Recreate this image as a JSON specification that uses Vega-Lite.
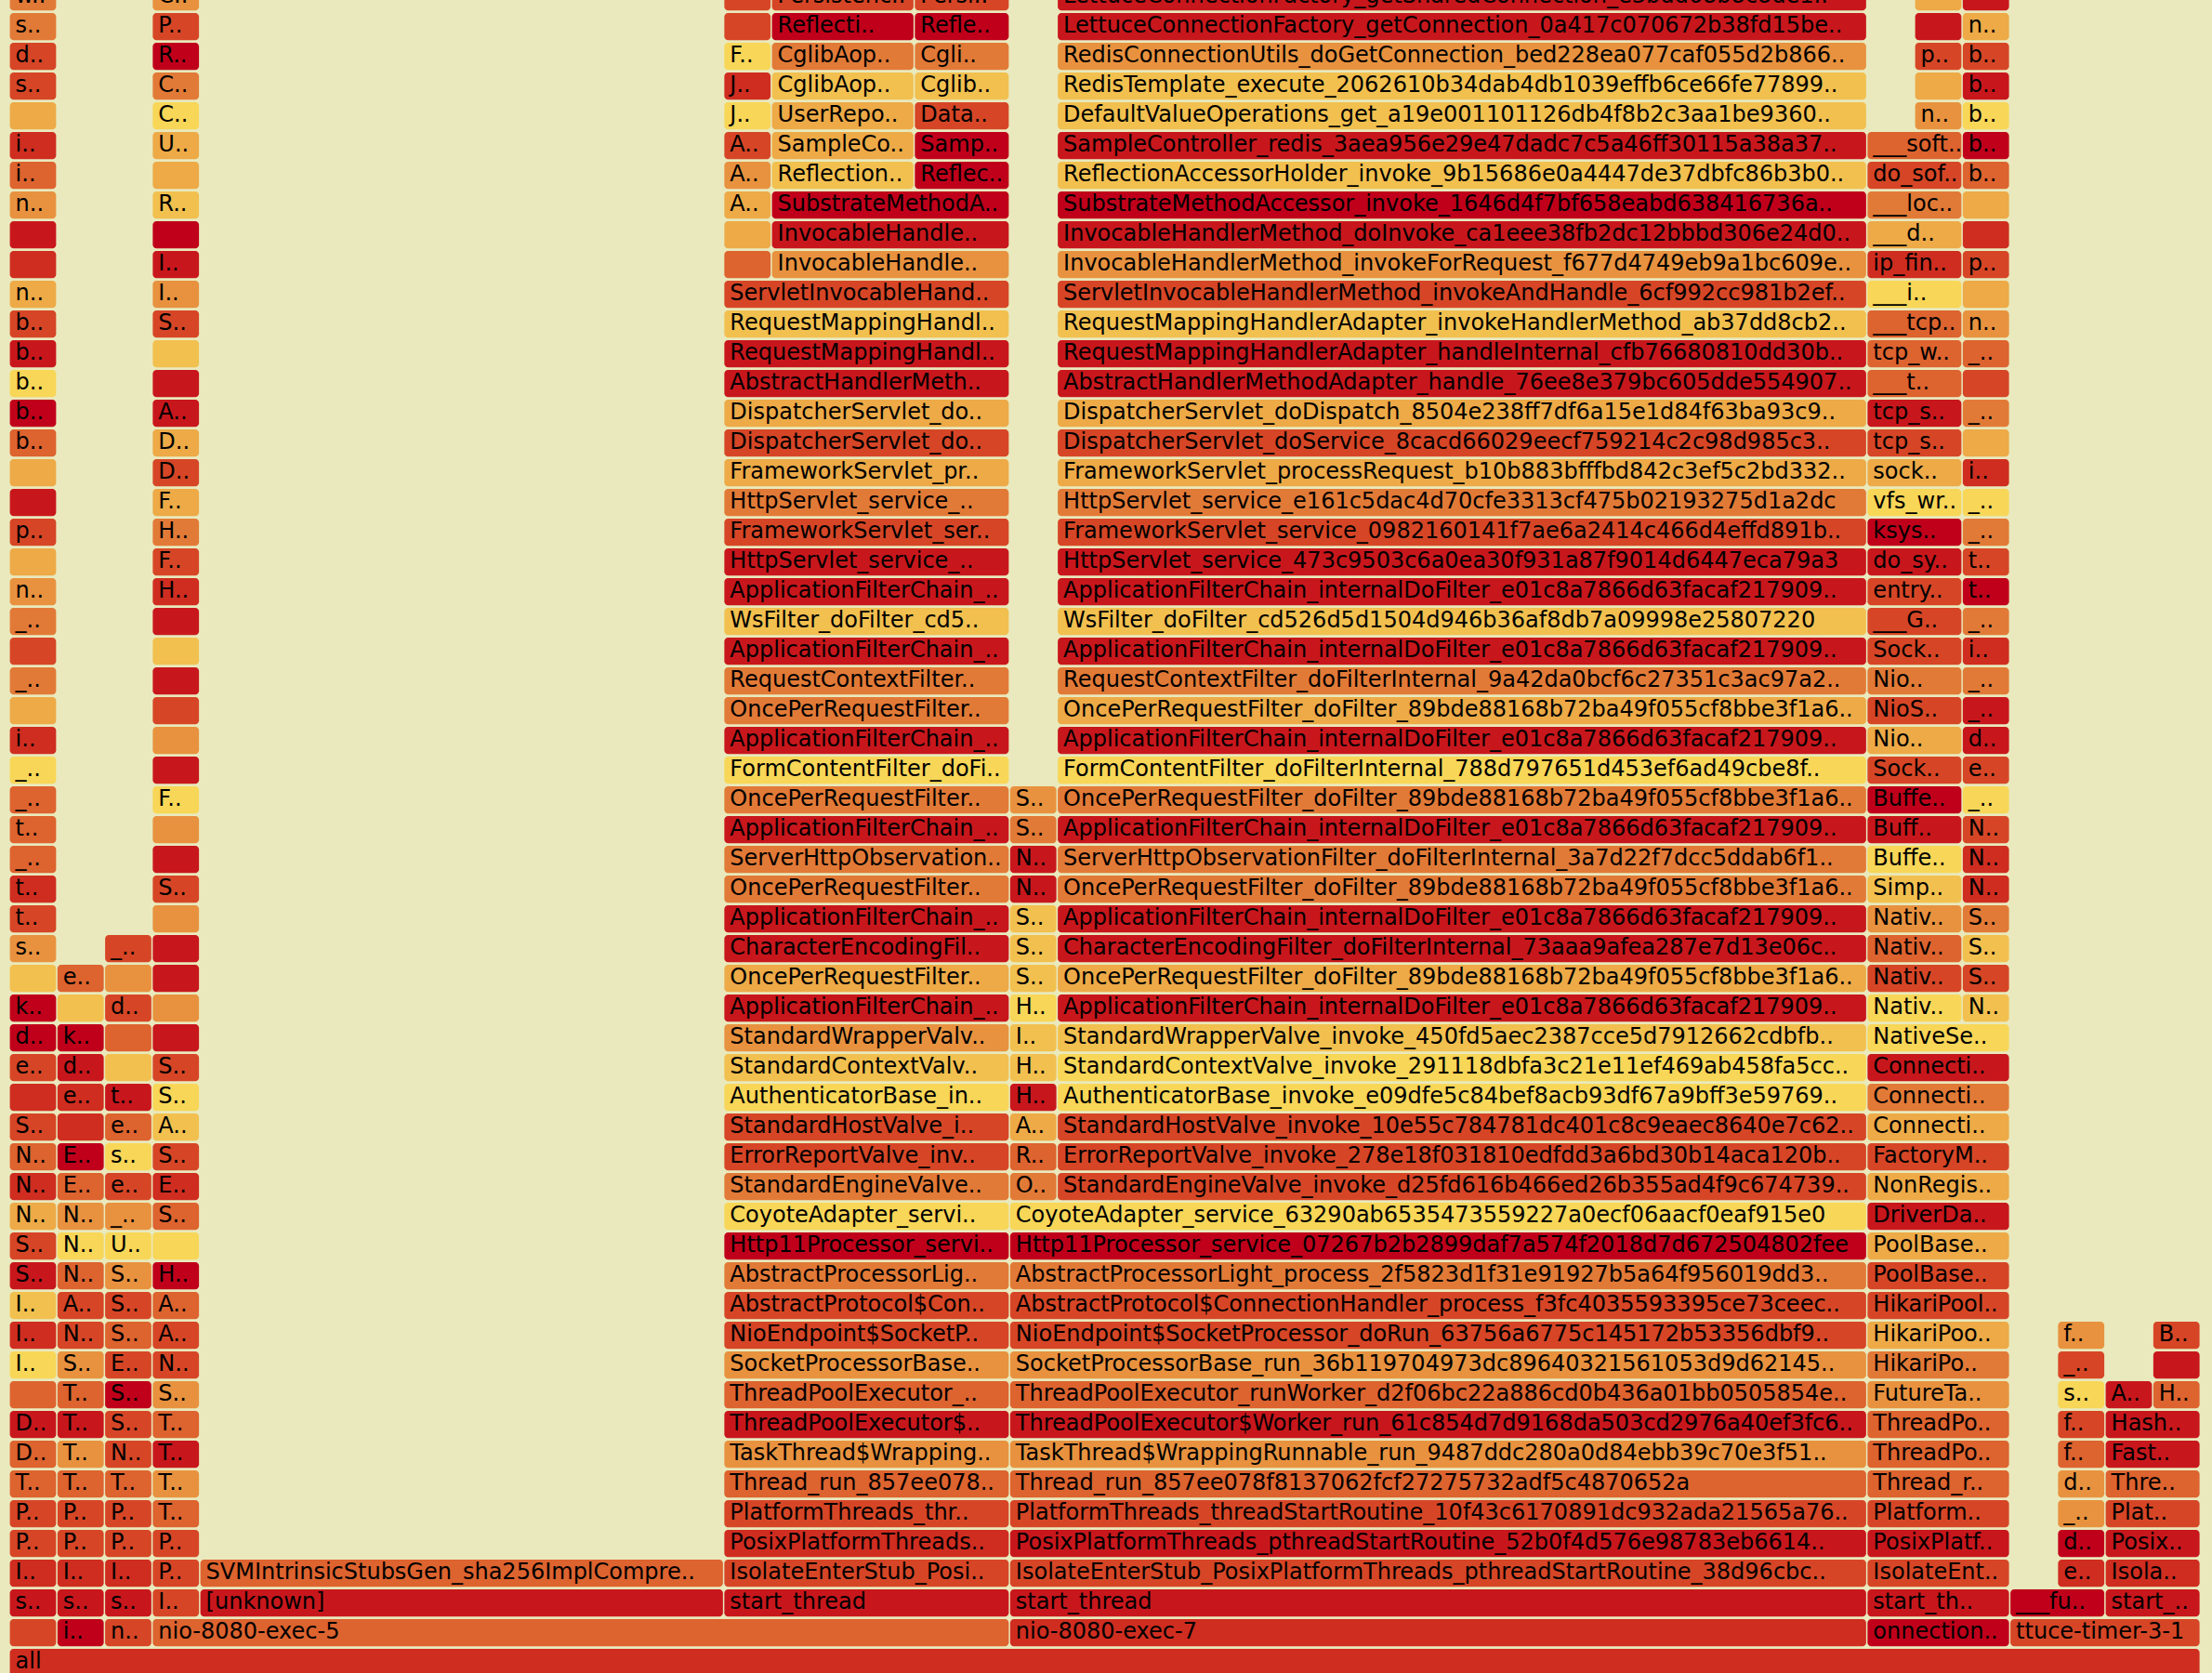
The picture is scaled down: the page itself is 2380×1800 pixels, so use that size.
{
"$schema": "https://vega.github.io/schema/vega-lite/v6.json",
"width": 2380, "height": 1800, "padding": 0, "autosize": {"type": "none"},
"background": "#e9e9bd",
"config": {"view": {"stroke": null}},
"data": {"values": [
{"d":0,"x0":0,"x1":46,"n":"all","h":2},
{"d":1,"x0":0,"x1":1,"n":"","h":3},{"d":1,"x0":1,"x1":2,"n":"i..","h":0},{"d":1,"x0":2,"x1":3,"n":"n..","h":3},{"d":1,"x0":3,"x1":21,"n":"nio-8080-exec-5","h":4},{"d":1,"x0":21,"x1":39,"n":"nio-8080-exec-7","h":2},{"d":1,"x0":39,"x1":42,"n":"onnection..","h":0},{"d":1,"x0":42,"x1":46,"n":"ttuce-timer-3-1","h":3},
{"d":2,"x0":0,"x1":1,"n":"s..","h":1},{"d":2,"x0":1,"x1":2,"n":"s..","h":1},{"d":2,"x0":2,"x1":3,"n":"s..","h":1},{"d":2,"x0":3,"x1":4,"n":"I..","h":3},{"d":2,"x0":4,"x1":15,"n":"[unknown]","h":1},{"d":2,"x0":15,"x1":21,"n":"start_thread","h":1},{"d":2,"x0":21,"x1":39,"n":"start_thread","h":1},{"d":2,"x0":39,"x1":42,"n":"start_th..","h":1},{"d":2,"x0":42,"x1":44,"n":"___fu..","h":0},{"d":2,"x0":44,"x1":46,"n":"start_..","h":1},
{"d":3,"x0":0,"x1":1,"n":"I..","h":2},{"d":3,"x0":1,"x1":2,"n":"I..","h":2},{"d":3,"x0":2,"x1":3,"n":"I..","h":2},{"d":3,"x0":3,"x1":4,"n":"P..","h":3},{"d":3,"x0":4,"x1":15,"n":"SVMIntrinsicStubsGen_sha256ImplCompre..","h":4},{"d":3,"x0":15,"x1":21,"n":"IsolateEnterStub_Posi..","h":3},{"d":3,"x0":21,"x1":39,"n":"IsolateEnterStub_PosixPlatformThreads_pthreadStartRoutine_38d96cbc..","h":3},{"d":3,"x0":39,"x1":42,"n":"IsolateEnt..","h":3},{"d":3,"x0":43,"x1":44,"n":"e..","h":2},{"d":3,"x0":44,"x1":46,"n":"Isola..","h":2},
{"d":4,"x0":0,"x1":1,"n":"P..","h":3},{"d":4,"x0":1,"x1":2,"n":"P..","h":3},{"d":4,"x0":2,"x1":3,"n":"P..","h":3},{"d":4,"x0":3,"x1":4,"n":"P..","h":3},{"d":4,"x0":15,"x1":21,"n":"PosixPlatformThreads..","h":2},{"d":4,"x0":21,"x1":39,"n":"PosixPlatformThreads_pthreadStartRoutine_52b0f4d576e98783eb6614..","h":1},{"d":4,"x0":39,"x1":42,"n":"PosixPlatf..","h":1},{"d":4,"x0":43,"x1":44,"n":"d..","h":0},{"d":4,"x0":44,"x1":46,"n":"Posix..","h":1},
{"d":5,"x0":0,"x1":1,"n":"P..","h":3},{"d":5,"x0":1,"x1":2,"n":"P..","h":3},{"d":5,"x0":2,"x1":3,"n":"P..","h":3},{"d":5,"x0":3,"x1":4,"n":"T..","h":4},{"d":5,"x0":15,"x1":21,"n":"PlatformThreads_thr..","h":3},{"d":5,"x0":21,"x1":39,"n":"PlatformThreads_threadStartRoutine_10f43c6170891dc932ada21565a76..","h":3},{"d":5,"x0":39,"x1":42,"n":"Platform..","h":3},{"d":5,"x0":43,"x1":44,"n":"_..","h":6},{"d":5,"x0":44,"x1":46,"n":"Plat..","h":3},
{"d":6,"x0":0,"x1":1,"n":"T..","h":4},{"d":6,"x0":1,"x1":2,"n":"T..","h":4},{"d":6,"x0":2,"x1":3,"n":"T..","h":4},{"d":6,"x0":3,"x1":4,"n":"T..","h":6},{"d":6,"x0":15,"x1":21,"n":"Thread_run_857ee078..","h":4},{"d":6,"x0":21,"x1":39,"n":"Thread_run_857ee078f8137062fcf27275732adf5c4870652a","h":4},{"d":6,"x0":39,"x1":42,"n":"Thread_r..","h":4},{"d":6,"x0":43,"x1":44,"n":"d..","h":6},{"d":6,"x0":44,"x1":46,"n":"Thre..","h":4},
{"d":7,"x0":0,"x1":1,"n":"D..","h":4},{"d":7,"x0":1,"x1":2,"n":"T..","h":6},{"d":7,"x0":2,"x1":3,"n":"N..","h":3},{"d":7,"x0":3,"x1":4,"n":"T..","h":1},{"d":7,"x0":15,"x1":21,"n":"TaskThread$Wrapping..","h":6},{"d":7,"x0":21,"x1":39,"n":"TaskThread$WrappingRunnable_run_9487ddc280a0d84ebb39c70e3f51..","h":6},{"d":7,"x0":39,"x1":42,"n":"ThreadPo..","h":4},{"d":7,"x0":43,"x1":44,"n":"f..","h":4},{"d":7,"x0":44,"x1":46,"n":"Fast..","h":1},
{"d":8,"x0":0,"x1":1,"n":"D..","h":1},{"d":8,"x0":1,"x1":2,"n":"T..","h":1},{"d":8,"x0":2,"x1":3,"n":"S..","h":3},{"d":8,"x0":3,"x1":4,"n":"T..","h":4},{"d":8,"x0":15,"x1":21,"n":"ThreadPoolExecutor$..","h":1},{"d":8,"x0":21,"x1":39,"n":"ThreadPoolExecutor$Worker_run_61c854d7d9168da503cd2976a40ef3fc6..","h":1},{"d":8,"x0":39,"x1":42,"n":"ThreadPo..","h":4},{"d":8,"x0":43,"x1":44,"n":"f..","h":3},{"d":8,"x0":44,"x1":46,"n":"Hash..","h":1},
{"d":9,"x0":0,"x1":1,"n":"","h":4},{"d":9,"x0":1,"x1":2,"n":"T..","h":4},{"d":9,"x0":2,"x1":3,"n":"S..","h":0},{"d":9,"x0":3,"x1":4,"n":"S..","h":6},{"d":9,"x0":15,"x1":21,"n":"ThreadPoolExecutor_..","h":4},{"d":9,"x0":21,"x1":39,"n":"ThreadPoolExecutor_runWorker_d2f06bc22a886cd0b436a01bb0505854e..","h":4},{"d":9,"x0":39,"x1":42,"n":"FutureTa..","h":6},{"d":9,"x0":43,"x1":44,"n":"s..","h":9},{"d":9,"x0":44,"x1":45,"n":"A..","h":1},{"d":9,"x0":45,"x1":46,"n":"H..","h":4},
{"d":10,"x0":0,"x1":1,"n":"I..","h":9},{"d":10,"x0":1,"x1":2,"n":"S..","h":6},{"d":10,"x0":2,"x1":3,"n":"E..","h":3},{"d":10,"x0":3,"x1":4,"n":"N..","h":3},{"d":10,"x0":15,"x1":21,"n":"SocketProcessorBase..","h":6},{"d":10,"x0":21,"x1":39,"n":"SocketProcessorBase_run_36b119704973dc89640321561053d9d62145..","h":6},{"d":10,"x0":39,"x1":42,"n":"HikariPo..","h":5},{"d":10,"x0":43,"x1":44,"n":"_..","h":3},{"d":10,"x0":45,"x1":46,"n":"","h":1},
{"d":11,"x0":0,"x1":1,"n":"I..","h":2},{"d":11,"x0":1,"x1":2,"n":"N..","h":3},{"d":11,"x0":2,"x1":3,"n":"S..","h":4},{"d":11,"x0":3,"x1":4,"n":"A..","h":3},{"d":11,"x0":15,"x1":21,"n":"NioEndpoint$SocketP..","h":3},{"d":11,"x0":21,"x1":39,"n":"NioEndpoint$SocketProcessor_doRun_63756a6775c145172b53356dbf9..","h":3},{"d":11,"x0":39,"x1":42,"n":"HikariPoo..","h":7},{"d":11,"x0":43,"x1":44,"n":"f..","h":6},{"d":11,"x0":45,"x1":46,"n":"B..","h":3},
{"d":12,"x0":0,"x1":1,"n":"I..","h":8},{"d":12,"x0":1,"x1":2,"n":"A..","h":3},{"d":12,"x0":2,"x1":3,"n":"S..","h":3},{"d":12,"x0":3,"x1":4,"n":"A..","h":4},{"d":12,"x0":15,"x1":21,"n":"AbstractProtocol$Con..","h":3},{"d":12,"x0":21,"x1":39,"n":"AbstractProtocol$ConnectionHandler_process_f3fc4035593395ce73ceec..","h":3},{"d":12,"x0":39,"x1":42,"n":"HikariPool..","h":3},
{"d":13,"x0":0,"x1":1,"n":"S..","h":1},{"d":13,"x0":1,"x1":2,"n":"N..","h":4},{"d":13,"x0":2,"x1":3,"n":"S..","h":6},{"d":13,"x0":3,"x1":4,"n":"H..","h":0},{"d":13,"x0":15,"x1":21,"n":"AbstractProcessorLig..","h":5},{"d":13,"x0":21,"x1":39,"n":"AbstractProcessorLight_process_2f5823d1f31e91927b5a64f956019dd3..","h":5},{"d":13,"x0":39,"x1":42,"n":"PoolBase..","h":3},
{"d":14,"x0":0,"x1":1,"n":"S..","h":3},{"d":14,"x0":1,"x1":2,"n":"N..","h":9},{"d":14,"x0":2,"x1":3,"n":"U..","h":9},{"d":14,"x0":3,"x1":4,"n":"","h":9},{"d":14,"x0":15,"x1":21,"n":"Http11Processor_servi..","h":0},{"d":14,"x0":21,"x1":39,"n":"Http11Processor_service_07267b2b2899daf7a574f2018d7d672504802fee","h":0},{"d":14,"x0":39,"x1":42,"n":"PoolBase..","h":7},
{"d":15,"x0":0,"x1":1,"n":"N..","h":7},{"d":15,"x0":1,"x1":2,"n":"N..","h":6},{"d":15,"x0":2,"x1":3,"n":"_..","h":6},{"d":15,"x0":3,"x1":4,"n":"S..","h":4},{"d":15,"x0":15,"x1":21,"n":"CoyoteAdapter_servi..","h":9},{"d":15,"x0":21,"x1":39,"n":"CoyoteAdapter_service_63290ab6535473559227a0ecf06aacf0eaf915e0","h":9},{"d":15,"x0":39,"x1":42,"n":"DriverDa..","h":1},
{"d":16,"x0":0,"x1":1,"n":"N..","h":2},{"d":16,"x0":1,"x1":2,"n":"E..","h":4},{"d":16,"x0":2,"x1":3,"n":"e..","h":3},{"d":16,"x0":3,"x1":4,"n":"E..","h":2},{"d":16,"x0":15,"x1":21,"n":"StandardEngineValve..","h":5},{"d":16,"x0":21,"x1":22,"n":"O..","h":5},{"d":16,"x0":22,"x1":39,"n":"StandardEngineValve_invoke_d25fd616b466ed26b355ad4f9c674739..","h":3},{"d":16,"x0":39,"x1":42,"n":"NonRegis..","h":7},
{"d":17,"x0":0,"x1":1,"n":"N..","h":4},{"d":17,"x0":1,"x1":2,"n":"E..","h":0},{"d":17,"x0":2,"x1":3,"n":"s..","h":9},{"d":17,"x0":3,"x1":4,"n":"S..","h":3},{"d":17,"x0":15,"x1":21,"n":"ErrorReportValve_inv..","h":3},{"d":17,"x0":21,"x1":22,"n":"R..","h":4},{"d":17,"x0":22,"x1":39,"n":"ErrorReportValve_invoke_278e18f031810edfdd3a6bd30b14aca120b..","h":3},{"d":17,"x0":39,"x1":42,"n":"FactoryM..","h":3},
{"d":18,"x0":0,"x1":1,"n":"S..","h":3},{"d":18,"x0":1,"x1":2,"n":"","h":2},{"d":18,"x0":2,"x1":3,"n":"e..","h":4},{"d":18,"x0":3,"x1":4,"n":"A..","h":8},{"d":18,"x0":15,"x1":21,"n":"StandardHostValve_i..","h":3},{"d":18,"x0":21,"x1":22,"n":"A..","h":7},{"d":18,"x0":22,"x1":39,"n":"StandardHostValve_invoke_10e55c784781dc401c8c9eaec8640e7c62..","h":3},{"d":18,"x0":39,"x1":42,"n":"Connecti..","h":7},
{"d":19,"x0":0,"x1":1,"n":"","h":2},{"d":19,"x0":1,"x1":2,"n":"e..","h":2},{"d":19,"x0":2,"x1":3,"n":"t..","h":1},{"d":19,"x0":3,"x1":4,"n":"S..","h":9},{"d":19,"x0":15,"x1":21,"n":"AuthenticatorBase_in..","h":9},{"d":19,"x0":21,"x1":22,"n":"H..","h":1},{"d":19,"x0":22,"x1":39,"n":"AuthenticatorBase_invoke_e09dfe5c84bef8acb93df67a9bff3e59769..","h":9},{"d":19,"x0":39,"x1":42,"n":"Connecti..","h":5},
{"d":20,"x0":0,"x1":1,"n":"e..","h":3},{"d":20,"x0":1,"x1":2,"n":"d..","h":1},{"d":20,"x0":2,"x1":3,"n":"","h":8},{"d":20,"x0":3,"x1":4,"n":"S..","h":3},{"d":20,"x0":15,"x1":21,"n":"StandardContextValv..","h":8},{"d":20,"x0":21,"x1":22,"n":"H..","h":8},{"d":20,"x0":22,"x1":39,"n":"StandardContextValve_invoke_291118dbfa3c21e11ef469ab458fa5cc..","h":9},{"d":20,"x0":39,"x1":42,"n":"Connecti..","h":1},
{"d":21,"x0":0,"x1":1,"n":"d..","h":0},{"d":21,"x0":1,"x1":2,"n":"k..","h":0},{"d":21,"x0":2,"x1":3,"n":"","h":4},{"d":21,"x0":3,"x1":4,"n":"","h":1},{"d":21,"x0":15,"x1":21,"n":"StandardWrapperValv..","h":6},{"d":21,"x0":21,"x1":22,"n":"I..","h":8},{"d":21,"x0":22,"x1":39,"n":"StandardWrapperValve_invoke_450fd5aec2387cce5d7912662cdbfb..","h":8},{"d":21,"x0":39,"x1":42,"n":"NativeSe..","h":9},
{"d":22,"x0":0,"x1":1,"n":"k..","h":0},{"d":22,"x0":1,"x1":2,"n":"","h":8},{"d":22,"x0":2,"x1":3,"n":"d..","h":3},{"d":22,"x0":3,"x1":4,"n":"","h":6},{"d":22,"x0":15,"x1":21,"n":"ApplicationFilterChain_..","h":1},{"d":22,"x0":21,"x1":22,"n":"H..","h":9},{"d":22,"x0":22,"x1":39,"n":"ApplicationFilterChain_internalDoFilter_e01c8a7866d63facaf217909..","h":1},{"d":22,"x0":39,"x1":41,"n":"Nativ..","h":9},{"d":22,"x0":41,"x1":42,"n":"N..","h":8},
{"d":23,"x0":0,"x1":1,"n":"","h":8},{"d":23,"x0":1,"x1":2,"n":"e..","h":4},{"d":23,"x0":2,"x1":3,"n":"","h":6},{"d":23,"x0":3,"x1":4,"n":"","h":1},{"d":23,"x0":15,"x1":21,"n":"OncePerRequestFilter..","h":7},{"d":23,"x0":21,"x1":22,"n":"S..","h":8},{"d":23,"x0":22,"x1":39,"n":"OncePerRequestFilter_doFilter_89bde88168b72ba49f055cf8bbe3f1a6..","h":7},{"d":23,"x0":39,"x1":41,"n":"Nativ..","h":3},{"d":23,"x0":41,"x1":42,"n":"S..","h":3},
{"d":24,"x0":0,"x1":1,"n":"s..","h":6},{"d":24,"x0":2,"x1":3,"n":"_..","h":3},{"d":24,"x0":3,"x1":4,"n":"","h":1},{"d":24,"x0":15,"x1":21,"n":"CharacterEncodingFil..","h":1},{"d":24,"x0":21,"x1":22,"n":"S..","h":8},{"d":24,"x0":22,"x1":39,"n":"CharacterEncodingFilter_doFilterInternal_73aaa9afea287e7d13e06c..","h":1},{"d":24,"x0":39,"x1":41,"n":"Nativ..","h":4},{"d":24,"x0":41,"x1":42,"n":"S..","h":8},
{"d":25,"x0":0,"x1":1,"n":"t..","h":3},{"d":25,"x0":3,"x1":4,"n":"","h":6},{"d":25,"x0":15,"x1":21,"n":"ApplicationFilterChain_..","h":1},{"d":25,"x0":21,"x1":22,"n":"S..","h":8},{"d":25,"x0":22,"x1":39,"n":"ApplicationFilterChain_internalDoFilter_e01c8a7866d63facaf217909..","h":1},{"d":25,"x0":39,"x1":41,"n":"Nativ..","h":6},{"d":25,"x0":41,"x1":42,"n":"S..","h":5},
{"d":26,"x0":0,"x1":1,"n":"t..","h":2},{"d":26,"x0":3,"x1":4,"n":"S..","h":3},{"d":26,"x0":15,"x1":21,"n":"OncePerRequestFilter..","h":5},{"d":26,"x0":21,"x1":22,"n":"N..","h":1},{"d":26,"x0":22,"x1":39,"n":"OncePerRequestFilter_doFilter_89bde88168b72ba49f055cf8bbe3f1a6..","h":5},{"d":26,"x0":39,"x1":41,"n":"Simp..","h":8},{"d":26,"x0":41,"x1":42,"n":"N..","h":2},
{"d":27,"x0":0,"x1":1,"n":"_..","h":4},{"d":27,"x0":3,"x1":4,"n":"","h":1},{"d":27,"x0":15,"x1":21,"n":"ServerHttpObservation..","h":5},{"d":27,"x0":21,"x1":22,"n":"N..","h":1},{"d":27,"x0":22,"x1":39,"n":"ServerHttpObservationFilter_doFilterInternal_3a7d22f7dcc5ddab6f1..","h":5},{"d":27,"x0":39,"x1":41,"n":"Buffe..","h":9},{"d":27,"x0":41,"x1":42,"n":"N..","h":2},
{"d":28,"x0":0,"x1":1,"n":"t..","h":4},{"d":28,"x0":3,"x1":4,"n":"","h":6},{"d":28,"x0":15,"x1":21,"n":"ApplicationFilterChain_..","h":1},{"d":28,"x0":21,"x1":22,"n":"S..","h":5},{"d":28,"x0":22,"x1":39,"n":"ApplicationFilterChain_internalDoFilter_e01c8a7866d63facaf217909..","h":1},{"d":28,"x0":39,"x1":41,"n":"Buff..","h":1},{"d":28,"x0":41,"x1":42,"n":"N..","h":3},
{"d":29,"x0":0,"x1":1,"n":"_..","h":4},{"d":29,"x0":3,"x1":4,"n":"F..","h":9},{"d":29,"x0":15,"x1":21,"n":"OncePerRequestFilter..","h":5},{"d":29,"x0":21,"x1":22,"n":"S..","h":6},{"d":29,"x0":22,"x1":39,"n":"OncePerRequestFilter_doFilter_89bde88168b72ba49f055cf8bbe3f1a6..","h":5},{"d":29,"x0":39,"x1":41,"n":"Buffe..","h":0},{"d":29,"x0":41,"x1":42,"n":"_..","h":9},
{"d":30,"x0":0,"x1":1,"n":"_..","h":9},{"d":30,"x0":3,"x1":4,"n":"","h":1},{"d":30,"x0":15,"x1":21,"n":"FormContentFilter_doFi..","h":9},{"d":30,"x0":22,"x1":39,"n":"FormContentFilter_doFilterInternal_788d797651d453ef6ad49cbe8f..","h":9},{"d":30,"x0":39,"x1":41,"n":"Sock..","h":3},{"d":30,"x0":41,"x1":42,"n":"e..","h":3},
{"d":31,"x0":0,"x1":1,"n":"i..","h":2},{"d":31,"x0":3,"x1":4,"n":"","h":6},{"d":31,"x0":15,"x1":21,"n":"ApplicationFilterChain_..","h":1},{"d":31,"x0":22,"x1":39,"n":"ApplicationFilterChain_internalDoFilter_e01c8a7866d63facaf217909..","h":1},{"d":31,"x0":39,"x1":41,"n":"Nio..","h":7},{"d":31,"x0":41,"x1":42,"n":"d..","h":1},
{"d":32,"x0":0,"x1":1,"n":"","h":7},{"d":32,"x0":3,"x1":4,"n":"","h":3},{"d":32,"x0":15,"x1":21,"n":"OncePerRequestFilter..","h":5},{"d":32,"x0":22,"x1":39,"n":"OncePerRequestFilter_doFilter_89bde88168b72ba49f055cf8bbe3f1a6..","h":7},{"d":32,"x0":39,"x1":41,"n":"NioS..","h":3},{"d":32,"x0":41,"x1":42,"n":"_..","h":1},
{"d":33,"x0":0,"x1":1,"n":"_..","h":5},{"d":33,"x0":3,"x1":4,"n":"","h":1},{"d":33,"x0":15,"x1":21,"n":"RequestContextFilter..","h":5},{"d":33,"x0":22,"x1":39,"n":"RequestContextFilter_doFilterInternal_9a42da0bcf6c27351c3ac97a2..","h":5},{"d":33,"x0":39,"x1":41,"n":"Nio..","h":5},{"d":33,"x0":41,"x1":42,"n":"_..","h":5},
{"d":34,"x0":0,"x1":1,"n":"","h":3},{"d":34,"x0":3,"x1":4,"n":"","h":8},{"d":34,"x0":15,"x1":21,"n":"ApplicationFilterChain_..","h":1},{"d":34,"x0":22,"x1":39,"n":"ApplicationFilterChain_internalDoFilter_e01c8a7866d63facaf217909..","h":1},{"d":34,"x0":39,"x1":41,"n":"Sock..","h":3},{"d":34,"x0":41,"x1":42,"n":"i..","h":2},
{"d":35,"x0":0,"x1":1,"n":"_..","h":5},{"d":35,"x0":3,"x1":4,"n":"","h":1},{"d":35,"x0":15,"x1":21,"n":"WsFilter_doFilter_cd5..","h":8},{"d":35,"x0":22,"x1":39,"n":"WsFilter_doFilter_cd526d5d1504d946b36af8db7a09998e25807220","h":8},{"d":35,"x0":39,"x1":41,"n":"___G..","h":3},{"d":35,"x0":41,"x1":42,"n":"_..","h":5},
{"d":36,"x0":0,"x1":1,"n":"n..","h":6},{"d":36,"x0":3,"x1":4,"n":"H..","h":2},{"d":36,"x0":15,"x1":21,"n":"ApplicationFilterChain_..","h":1},{"d":36,"x0":22,"x1":39,"n":"ApplicationFilterChain_internalDoFilter_e01c8a7866d63facaf217909..","h":1},{"d":36,"x0":39,"x1":41,"n":"entry..","h":3},{"d":36,"x0":41,"x1":42,"n":"t..","h":0},
{"d":37,"x0":0,"x1":1,"n":"","h":7},{"d":37,"x0":3,"x1":4,"n":"F..","h":3},{"d":37,"x0":15,"x1":21,"n":"HttpServlet_service_..","h":1},{"d":37,"x0":22,"x1":39,"n":"HttpServlet_service_473c9503c6a0ea30f931a87f9014d6447eca79a3","h":1},{"d":37,"x0":39,"x1":41,"n":"do_sy..","h":1},{"d":37,"x0":41,"x1":42,"n":"t..","h":3},
{"d":38,"x0":0,"x1":1,"n":"p..","h":3},{"d":38,"x0":3,"x1":4,"n":"H..","h":5},{"d":38,"x0":15,"x1":21,"n":"FrameworkServlet_ser..","h":3},{"d":38,"x0":22,"x1":39,"n":"FrameworkServlet_service_0982160141f7ae6a2414c466d4effd891b..","h":3},{"d":38,"x0":39,"x1":41,"n":"ksys..","h":0},{"d":38,"x0":41,"x1":42,"n":"_..","h":5},
{"d":39,"x0":0,"x1":1,"n":"","h":1},{"d":39,"x0":3,"x1":4,"n":"F..","h":7},{"d":39,"x0":15,"x1":21,"n":"HttpServlet_service_..","h":5},{"d":39,"x0":22,"x1":39,"n":"HttpServlet_service_e161c5dac4d70cfe3313cf475b02193275d1a2dc","h":5},{"d":39,"x0":39,"x1":41,"n":"vfs_wr..","h":9},{"d":39,"x0":41,"x1":42,"n":"_..","h":9},
{"d":40,"x0":0,"x1":1,"n":"","h":7},{"d":40,"x0":3,"x1":4,"n":"D..","h":3},{"d":40,"x0":15,"x1":21,"n":"FrameworkServlet_pr..","h":7},{"d":40,"x0":22,"x1":39,"n":"FrameworkServlet_processRequest_b10b883bfffbd842c3ef5c2bd332..","h":7},{"d":40,"x0":39,"x1":41,"n":"sock..","h":7},{"d":40,"x0":41,"x1":42,"n":"i..","h":2},
{"d":41,"x0":0,"x1":1,"n":"b..","h":4},{"d":41,"x0":3,"x1":4,"n":"D..","h":7},{"d":41,"x0":15,"x1":21,"n":"DispatcherServlet_do..","h":3},{"d":41,"x0":22,"x1":39,"n":"DispatcherServlet_doService_8cacd66029eecf759214c2c98d985c3..","h":3},{"d":41,"x0":39,"x1":41,"n":"tcp_s..","h":3},{"d":41,"x0":41,"x1":42,"n":"","h":7},
{"d":42,"x0":0,"x1":1,"n":"b..","h":0},{"d":42,"x0":3,"x1":4,"n":"A..","h":1},{"d":42,"x0":15,"x1":21,"n":"DispatcherServlet_do..","h":7},{"d":42,"x0":22,"x1":39,"n":"DispatcherServlet_doDispatch_8504e238ff7df6a15e1d84f63ba93c9..","h":7},{"d":42,"x0":39,"x1":41,"n":"tcp_s..","h":1},{"d":42,"x0":41,"x1":42,"n":"_..","h":5},
{"d":43,"x0":0,"x1":1,"n":"b..","h":9},{"d":43,"x0":3,"x1":4,"n":"","h":1},{"d":43,"x0":15,"x1":21,"n":"AbstractHandlerMeth..","h":1},{"d":43,"x0":22,"x1":39,"n":"AbstractHandlerMethodAdapter_handle_76ee8e379bc605dde554907..","h":1},{"d":43,"x0":39,"x1":41,"n":"___t..","h":4},{"d":43,"x0":41,"x1":42,"n":"","h":3},
{"d":44,"x0":0,"x1":1,"n":"b..","h":1},{"d":44,"x0":3,"x1":4,"n":"","h":8},{"d":44,"x0":15,"x1":21,"n":"RequestMappingHandl..","h":1},{"d":44,"x0":22,"x1":39,"n":"RequestMappingHandlerAdapter_handleInternal_cfb76680810dd30b..","h":1},{"d":44,"x0":39,"x1":41,"n":"tcp_w..","h":4},{"d":44,"x0":41,"x1":42,"n":"_..","h":4},
{"d":45,"x0":0,"x1":1,"n":"b..","h":3},{"d":45,"x0":3,"x1":4,"n":"S..","h":3},{"d":45,"x0":15,"x1":21,"n":"RequestMappingHandl..","h":8},{"d":45,"x0":22,"x1":39,"n":"RequestMappingHandlerAdapter_invokeHandlerMethod_ab37dd8cb2..","h":8},{"d":45,"x0":39,"x1":41,"n":"___tcp..","h":4},{"d":45,"x0":41,"x1":42,"n":"n..","h":6},
{"d":46,"x0":0,"x1":1,"n":"n..","h":7},{"d":46,"x0":3,"x1":4,"n":"I..","h":6},{"d":46,"x0":15,"x1":21,"n":"ServletInvocableHand..","h":3},{"d":46,"x0":22,"x1":39,"n":"ServletInvocableHandlerMethod_invokeAndHandle_6cf992cc981b2ef..","h":3},{"d":46,"x0":39,"x1":41,"n":"___i..","h":9},{"d":46,"x0":41,"x1":42,"n":"","h":7},
{"d":47,"x0":0,"x1":1,"n":"","h":2},{"d":47,"x0":3,"x1":4,"n":"I..","h":1},{"d":47,"x0":15,"x1":16,"n":"","h":4},{"d":47,"x0":16,"x1":21,"n":"InvocableHandle..","h":6},{"d":47,"x0":22,"x1":39,"n":"InvocableHandlerMethod_invokeForRequest_f677d4749eb9a1bc609e..","h":6},{"d":47,"x0":39,"x1":41,"n":"ip_fin..","h":2},{"d":47,"x0":41,"x1":42,"n":"p..","h":3},
{"d":48,"x0":0,"x1":1,"n":"","h":1},{"d":48,"x0":3,"x1":4,"n":"","h":0},{"d":48,"x0":15,"x1":16,"n":"","h":7},{"d":48,"x0":16,"x1":21,"n":"InvocableHandle..","h":1},{"d":48,"x0":22,"x1":39,"n":"InvocableHandlerMethod_doInvoke_ca1eee38fb2dc12bbbd306e24d0..","h":1},{"d":48,"x0":39,"x1":41,"n":"___d..","h":7},{"d":48,"x0":41,"x1":42,"n":"","h":2},
{"d":49,"x0":0,"x1":1,"n":"n..","h":6},{"d":49,"x0":3,"x1":4,"n":"R..","h":8},{"d":49,"x0":15,"x1":16,"n":"A..","h":7},{"d":49,"x0":16,"x1":21,"n":"SubstrateMethodA..","h":0},{"d":49,"x0":22,"x1":39,"n":"SubstrateMethodAccessor_invoke_1646d4f7bf658eabd638416736a..","h":0},{"d":49,"x0":39,"x1":41,"n":"___loc..","h":5},{"d":49,"x0":41,"x1":42,"n":"","h":7},
{"d":50,"x0":0,"x1":1,"n":"i..","h":4},{"d":50,"x0":3,"x1":4,"n":"","h":7},{"d":50,"x0":15,"x1":16,"n":"A..","h":6},{"d":50,"x0":16,"x1":19,"n":"Reflection..","h":8},{"d":50,"x0":19,"x1":21,"n":"Reflec..","h":0},{"d":50,"x0":22,"x1":39,"n":"ReflectionAccessorHolder_invoke_9b15686e0a4447de37dbfc86b3b0..","h":8},{"d":50,"x0":39,"x1":41,"n":"do_sof..","h":3},{"d":50,"x0":41,"x1":42,"n":"b..","h":4},
{"d":51,"x0":0,"x1":1,"n":"i..","h":2},{"d":51,"x0":3,"x1":4,"n":"U..","h":7},{"d":51,"x0":15,"x1":16,"n":"A..","h":3},{"d":51,"x0":16,"x1":19,"n":"SampleCo..","h":7},{"d":51,"x0":19,"x1":21,"n":"Samp..","h":0},{"d":51,"x0":22,"x1":39,"n":"SampleController_redis_3aea956e29e47dadc7c5a46ff30115a38a37..","h":1},{"d":51,"x0":39,"x1":41,"n":"___soft..","h":4},{"d":51,"x0":41,"x1":42,"n":"b..","h":0},
{"d":52,"x0":0,"x1":1,"n":"","h":7},{"d":52,"x0":3,"x1":4,"n":"C..","h":9},{"d":52,"x0":15,"x1":16,"n":"J..","h":9},{"d":52,"x0":16,"x1":19,"n":"UserRepo..","h":7},{"d":52,"x0":19,"x1":21,"n":"Data..","h":3},{"d":52,"x0":22,"x1":39,"n":"DefaultValueOperations_get_a19e001101126db4f8b2c3aa1be9360..","h":8},{"d":52,"x0":40,"x1":41,"n":"n..","h":6},{"d":52,"x0":41,"x1":42,"n":"b..","h":9},
{"d":53,"x0":0,"x1":1,"n":"s..","h":3},{"d":53,"x0":3,"x1":4,"n":"C..","h":5},{"d":53,"x0":15,"x1":16,"n":"J..","h":2},{"d":53,"x0":16,"x1":19,"n":"CglibAop..","h":8},{"d":53,"x0":19,"x1":21,"n":"Cglib..","h":8},{"d":53,"x0":22,"x1":39,"n":"RedisTemplate_execute_2062610b34dab4db1039effb6ce66fe77899..","h":8},{"d":53,"x0":40,"x1":41,"n":"","h":7},{"d":53,"x0":41,"x1":42,"n":"b..","h":1},
{"d":54,"x0":0,"x1":1,"n":"d..","h":3},{"d":54,"x0":3,"x1":4,"n":"R..","h":0},{"d":54,"x0":15,"x1":16,"n":"F..","h":9},{"d":54,"x0":16,"x1":19,"n":"CglibAop..","h":5},{"d":54,"x0":19,"x1":21,"n":"Cgli..","h":5},{"d":54,"x0":22,"x1":39,"n":"RedisConnectionUtils_doGetConnection_bed228ea077caf055d2b866..","h":6},{"d":54,"x0":40,"x1":41,"n":"p..","h":3},{"d":54,"x0":41,"x1":42,"n":"b..","h":3},
{"d":55,"x0":0,"x1":1,"n":"s..","h":5},{"d":55,"x0":3,"x1":4,"n":"P..","h":3},{"d":55,"x0":15,"x1":16,"n":"","h":3},{"d":55,"x0":16,"x1":19,"n":"Reflecti..","h":0},{"d":55,"x0":19,"x1":21,"n":"Refle..","h":0},{"d":55,"x0":22,"x1":39,"n":"LettuceConnectionFactory_getConnection_0a417c070672b38fd15be..","h":1},{"d":55,"x0":40,"x1":41,"n":"","h":1},{"d":55,"x0":41,"x1":42,"n":"n..","h":7},
{"d":56,"x0":0,"x1":1,"n":"w..","h":5},{"d":56,"x0":3,"x1":4,"n":"C..","h":6},{"d":56,"x0":15,"x1":16,"n":"","h":3},{"d":56,"x0":16,"x1":19,"n":"Persistenc..","h":3},{"d":56,"x0":19,"x1":21,"n":"Persi..","h":3},{"d":56,"x0":22,"x1":39,"n":"LettuceConnectionFactory_getSharedConnection_e3bdd68b8c8de1..","h":1},{"d":56,"x0":40,"x1":41,"n":"","h":7},{"d":56,"x0":41,"x1":42,"n":"","h":1}
]},
"encoding": {
  "x": {"field": "x0", "type": "quantitative", "scale": {"domain": [-0.207, 46.232], "nice": false, "zero": false}, "axis": null},
  "y": {"field": "d", "type": "ordinal", "scale": {"domain": [56,55,54,53,52,51,50,49,48,47,46,45,44,43,42,41,40,39,38,37,36,35,34,33,32,31,30,29,28,27,26,25,24,23,22,21,20,19,18,17,16,15,14,13,12,11,10,9,8,7,6,5,4,3,2,1,0], "range": [-19.34, 1804.66], "paddingInner": 0.084, "paddingOuter": 0.042}, "axis": null}
},
"layer": [
  {"mark": {"type": "rect", "cornerRadius": 4, "x2Offset": -1.5},
   "encoding": {"x2": {"field": "x1"},
     "color": {"field": "h", "type": "ordinal", "legend": null,
       "scale": {"domain": [0,1,2,3,4,5,6,7,8,9], "range": ["#c0001a","#c8171c","#cf2d20","#d64626","#dd632f","#e27a37","#e8923f","#edaa47","#f2c04f","#f8d657"]}}}},
  {"mark": {"type": "text", "align": "left", "baseline": "middle", "dx": 6, "dy": -1, "font": "DejaVu Sans", "fontSize": 24, "color": "#000000"},
   "encoding": {"text": {"field": "n"}}}
]
}
